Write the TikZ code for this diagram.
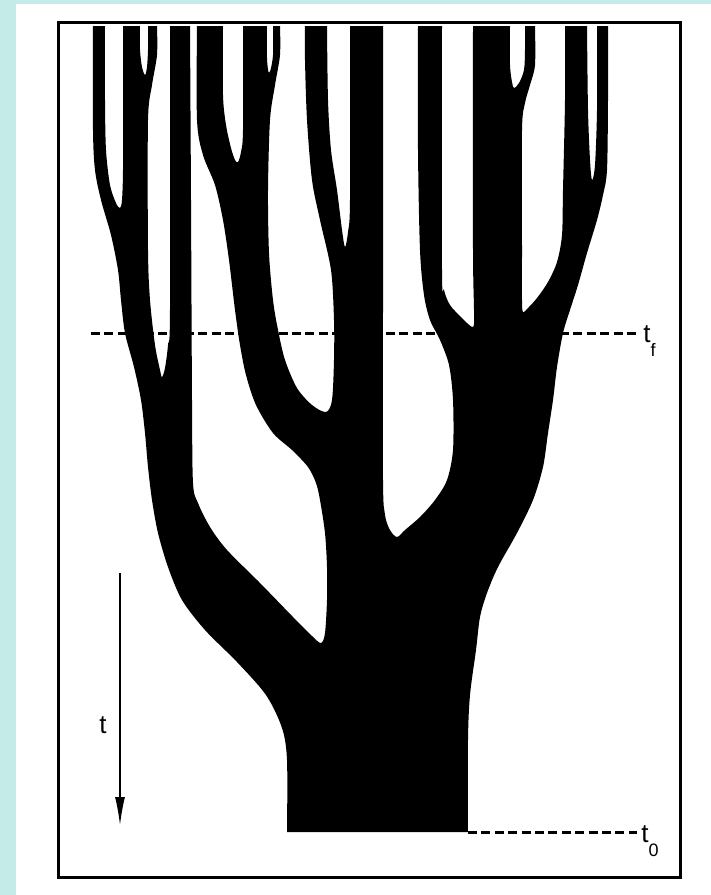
\documentclass[tikz,border=0pt]{standalone}
\usepackage{fontspec}
\setmainfont{Liberation Sans}
\usepackage{tikz}
\usetikzlibrary{arrows.meta}
\definecolor{aqua}{RGB}{196,235,232}
\newcommand{\tlab}[1]{t\raisebox{-0.55em}{\fontsize{9}{9}\selectfont #1}}

\begin{document}
\begin{tikzpicture}[x=0.5pt, y=-0.5pt, every node/.style={font=\fontsize{13}{15}\selectfont, inner sep=2pt},
  timeline/.style={line width=1.5pt, dash pattern=on 4.5pt off 2.2pt},
  branch/.style={fill=black}]
  \useasboundingbox (0,0) rectangle (711,895);
  \fill[aqua] (0,0) rectangle (711,895);
  \fill[white] (16,4) rectangle (711,895);
  \draw[line width=1.5pt] (58,22.5) rectangle (680,877);

  \coordinate (tfstart) at (91,333);
  \node[anchor=base west] (tf) at (639,342) {\tlab{f}};
  \draw[timeline] (tfstart) -- (tfstart -| tf.west);

  \fill[branch] plot[smooth] coordinates {(287,832) (287,760) (282,728) (266,695) (237,662) (205,630) (182,600) (168,567) (158,533) (152,500) (148,467) (145,433) (141,400) (134,367) (125,333) (121,300) (118,270) (111,235) (101,200) (95,170) (93,130) (93,26)}
    -- plot[smooth] coordinates {(105,26) (105,100) (106,150) (110,185) (116,203) (120,208) (122,200) (123,170) (123,100) (123,26)}
    -- plot[smooth] coordinates {(140,26) (140,50) (142,67) (145,75) (147,67) (148,50) (148,26)}
    -- plot[smooth] coordinates {(157,26) (157,55) (152,85) (148,120) (148,250) (150,300) (155,345) (160,370) (162,377) (165,368) (168,345) (170,310) (170,26)}
    -- plot[smooth] coordinates {(190,26) (191,200) (192,400) (193,483) (198,503) (210,527) (227,550) (260,583) (293,617) (312,636) (321,643) (325,633) (327,600) (327,567) (325,533) (320,500) (316,483) (308,467) (292,450) (273,433) (256,405) (246,375) (240,345) (235,310) (229,260) (223,220) (215,185) (203,155) (197,120) (197,26)}
    -- plot[smooth] coordinates {(223,26) (223,95) (226,125) (231,148) (235,160) (238,162) (241,152) (243,130) (243,26)}
    -- plot[smooth] coordinates {(267,26) (267,58) (268.5,72) (270.5,70) (273,55) (273,26)}
    -- plot[smooth] coordinates {(280,26) (280,55) (275,85) (270,120) (268,190) (269,253) (273,300) (278,330) (285,360) (297,388) (312,405) (326,412) (332,400) (334,360) (334,320) (331,270) (320,220) (312,180) (307,120) (305,60) (305,26)}
    -- plot[smooth] coordinates {(327,26) (328,100) (331,150) (337,190) (342,230) (345,247) (348,232) (350,200) (350,26)}
    -- plot[smooth] coordinates {(383,26) (383,300) (383,480) (385,515) (390,530) (397,537) (405,530) (420,517) (435,500) (447,480) (453,450) (453,400) (449,365) (440,340) (430,320) (424,295) (420,250) (418,150) (418,26)}
    -- plot[smooth] coordinates {(442,26) (442,270) (444,290) (450,305) (462,318) (473,327) (474,310) (473,250) (473,26)}
    -- plot[smooth] coordinates {(510,26) (510,65) (512,82) (514,88) (519,83) (524,70) (525,50) (525,26)}
    -- plot[smooth] coordinates {(535,26) (535,65) (530,85) (525,103) (522,130) (522,250) (522,300) (523,312) (528,308) (537,298) (548,282) (557,262) (562,235) (563,190) (565,100) (565,26)}
    -- plot[smooth] coordinates {(587,26) (588,110) (590,160) (592,180) (595,165) (597,110) (597,26)}
    -- plot[smooth] coordinates {(608,26) (608,100) (607,170) (603,195) (597,220) (587,253) (578,285) (570,310) (563,333) (557,367) (553,400) (548,433) (543,467) (533,500) (517,533) (498,567) (487,593) (480,617) (476,650) (470,695) (468,740) (468,832)}
    -- cycle;

  \coordinate (trunkend) at (468,832);
  \node[anchor=base west] (t0) at (637,842) {\tlab{0}};
  \draw[timeline] (trunkend) -- (trunkend -| t0.west);

  \coordinate (tup) at (120,573);
  \coordinate (tdown) at (120,825);
  \draw[line width=0.6pt, -{Latex[length=14pt, width=5pt]}] (tup) -- (tdown);
  \node (tlabel) at (103,725) {t};
\end{tikzpicture}
\end{document}
